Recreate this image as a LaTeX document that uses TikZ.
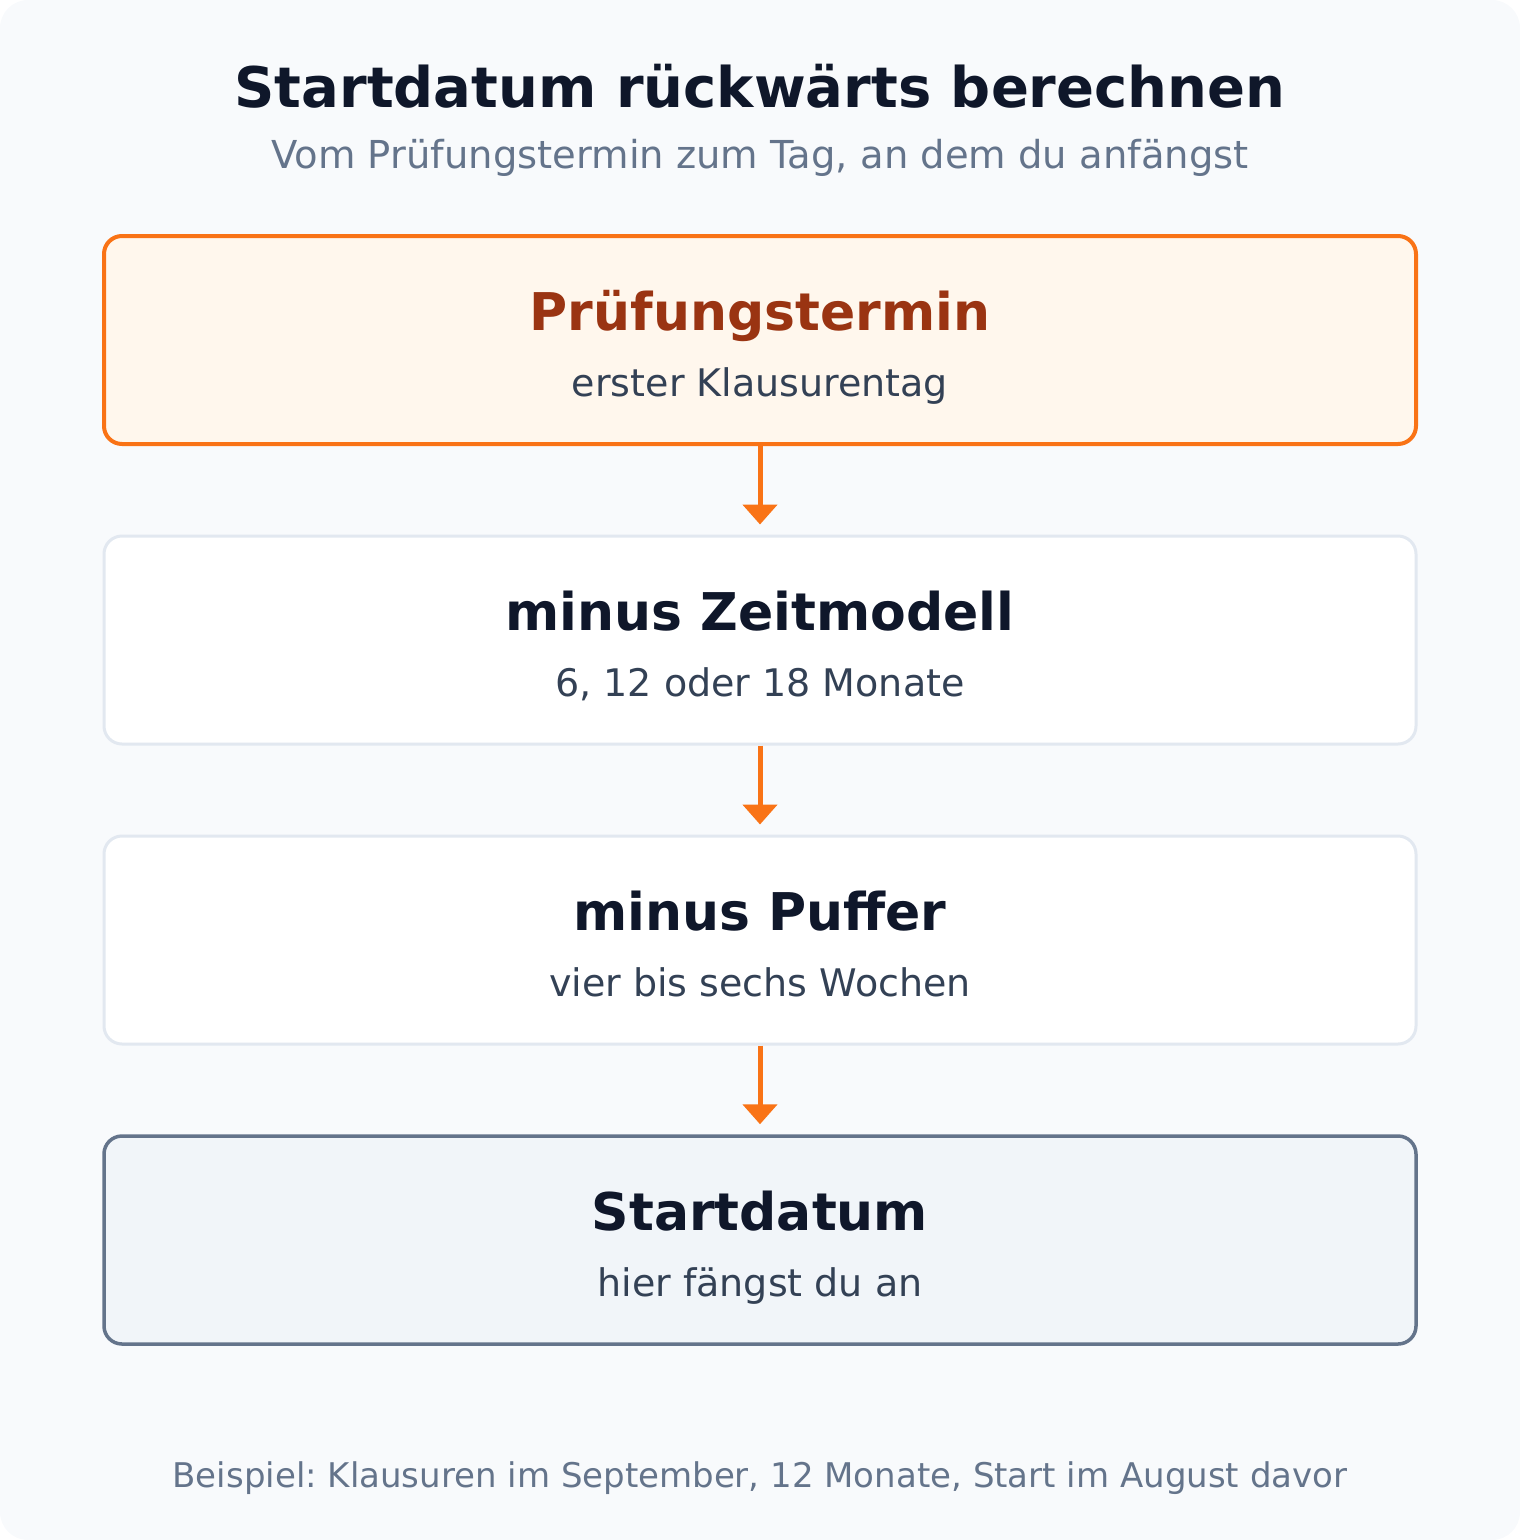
\documentclass[tikz,border=0pt]{standalone}
\usepackage{fontspec}
\setmainfont{DejaVu Sans}
\frenchspacing
\usetikzlibrary{arrows.meta,positioning}
\definecolor{bgpage}{HTML}{F8FAFC}
\definecolor{ink}{HTML}{0F172A}
\definecolor{muted}{HTML}{64748B}
\definecolor{subink}{HTML}{334155}
\definecolor{orange}{HTML}{F97316}
\definecolor{orangefill}{HTML}{FFF7ED}
\definecolor{orangeink}{HTML}{9A3412}
\definecolor{lightline}{HTML}{E2E8F0}
\definecolor{slatefill}{HTML}{F1F5F9}
\tikzset{
    box/.style={draw=lightline, fill=white, line width=3pt, rounded corners=18pt,
                minimum width=1312pt, minimum height=208pt, inner sep=0pt},
    boxExam/.style={box, draw=orange, fill=orangefill, line width=4pt},
    boxStart/.style={box, draw=muted, fill=slatefill, line width=3.5pt},
    head/.style={anchor=base, text=ink, font=\fontsize{52pt}{62pt}\selectfont\bfseries},
    sub/.style={anchor=base, text=subink, font=\fontsize{38pt}{46pt}\selectfont},
    flow/.style={draw=orange, line width=5pt, -{Triangle[width=34pt,length=20pt]}, shorten >=10pt},
}

\begin{document}
\begin{tikzpicture}[x=1pt, y=-1pt]
    % Background
    \useasboundingbox (0,0) rectangle (1520,1540);
    \fill[bgpage, rounded corners=28pt] (0,0) rectangle (1520,1540);

    % Title
    \node[anchor=base, text=ink, font=\fontsize{56pt}{67pt}\selectfont\bfseries] (title) at (760,107) {Startdatum rückwärts berechnen};
    \node[anchor=base, text=muted, font=\fontsize{38.5pt}{46pt}\selectfont] (subtitle) at (760,168) {Vom Prüfungstermin zum Tag, an dem du anfängst};

    % Boxes
    \node[boxExam] (exam) at (760,340) {};
    \node[head, text=orangeink] (examT) at ([yshift=10pt]exam.center) {Prüfungstermin};
    \node[sub] (examS) at ([yshift=-56pt]exam.center) {erster Klausurentag};

    \node[box] (model) at (760,640) {};
    \node[head] (modelT) at ([yshift=10pt]model.center) {minus Zeitmodell};
    \node[sub] (modelS) at ([yshift=-56pt]model.center) {6, 12 oder 18 Monate};

    \node[box] (buffer) at (760,940) {};
    \node[head] (bufferT) at ([yshift=10pt]buffer.center) {minus Puffer};
    \node[sub] (bufferS) at ([yshift=-56pt]buffer.center) {vier bis sechs Wochen};

    \node[boxStart] (start) at (760,1240) {};
    \node[head] (startT) at ([yshift=10pt]start.center) {Startdatum};
    \node[sub] (startS) at ([yshift=-56pt]start.center) {hier fängst du an};

    % Arrows
    \draw[flow] (exam.south) -- (model.north);
    \draw[flow] (model.south) -- (buffer.north);
    \draw[flow] (buffer.south) -- (start.north);

    % Footer
    \node[anchor=base, text=muted, font=\fontsize{34pt}{41pt}\selectfont] (note) at (760,1487) {Beispiel: Klausuren im September, 12 Monate, Start im August davor};
\end{tikzpicture}
\end{document}
